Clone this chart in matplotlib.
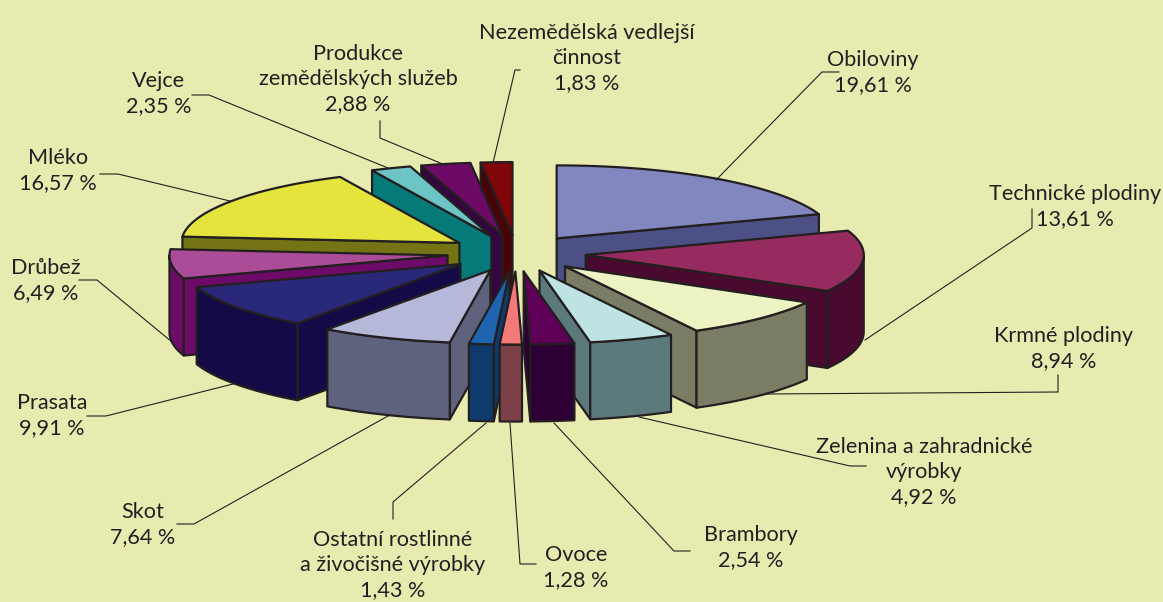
import numpy as np
import matplotlib
matplotlib.use("Agg")
import matplotlib.pyplot as plt

plt.rcParams['font.family'] = ['Lato', 'DejaVu Sans']

# shares in percent, clockwise from 12 o'clock
names = ["Obiloviny", "Technické plodiny", "Krmné plodiny",
         "Zelenina a zahradnické\nvýrobky", "Brambory", "Ovoce",
         "Ostatní rostlinné\na živočišné výrobky", "Skot", "Prasata",
         "Drůbež", "Mléko", "Vejce", "Produkce\nzemědělských služeb",
         "Nezemědělská vedlejší\nčinnost"]
shares = [19.61, 13.61, 8.94, 4.92, 2.54, 1.28, 1.43, 7.64, 9.91, 6.49, 16.57, 2.35, 2.88, 1.83]

top_colors = ["#8287bf", "#952b5e", "#eef3c4", "#bee3e3", "#5f0058", "#f47a7a", "#1f64b0",
              "#b6b8da", "#2a2878", "#ab4c98", "#e4e43c", "#6cc4c4", "#6c0a66", "#7e0508"]
wall_colors = ["#4c5084", "#4a0a30", "#7a7d64", "#5c7a7c", "#2c0034", "#7c4048", "#0e3a6c",
               "#5f627c", "#140a48", "#6e0a68", "#747414", "#057a78", "#340540", "#480306"]

label_pos = [(873, 73), (1075, 207), (1064, 349), (924, 472), (751, 548), (576, 568), (393, 565),
             (143, 525), (52, 416), (46, 281), (58, 171), (159, 94), (358, 79), (587, 58)]
leaders = [[(839, 72), (822, 72), (716, 180)],
           [(1032, 209), (1032, 228), (865, 340)],
           [(1058, 375), (1058, 392), (766, 394)],
           [(866, 466), (850, 466), (639, 417)],
           [(690, 551), (674, 551), (554, 423)],
           [(536, 564), (520, 564), (510, 423)],
           [(393, 519), (393, 502), (486, 423)],
           [(177, 524), (194, 524), (388, 416)],
           [(87, 416), (106, 416), (233, 384)],
           [(79, 280), (97, 280), (172, 342)],
           [(100, 174), (118, 174), (230, 201)],
           [(192, 95), (209, 95), (388, 168)],
           [(380, 121), (380, 138), (445, 165)],
           [(520, 70), (515, 70), (493, 163)]]

# pie geometry in pixels
cx, cy = 516.5, 253.3
rx, ry = 278, 73
depth = 77
explode = 0.25
edge = "#231f20"

fig = plt.figure(figsize=(11.63, 6.02), dpi=100, facecolor="#e8ebb0")
ax = fig.add_axes([0, 0, 1, 1])
ax.set_xlim(0, 1163)
ax.set_ylim(602, 0)
ax.axis("off")


def rim(ox, oy, a0, a1):
    t = np.radians(np.linspace(a0, a1, max(2, int(a1 - a0) * 2 + 2)))
    return ox + rx * np.sin(t), oy - ry * np.cos(t)


def wall(xs, ys, color):
    xs = np.asarray(xs)
    ys = np.asarray(ys)
    ax.fill(np.r_[xs, xs[::-1]], np.r_[ys, ys[::-1] + depth], fc=color, ec=edge, lw=1.6, joinstyle="round")


bounds = np.cumsum([0] + shares) * 3.6
mids = (bounds[:-1] + bounds[1:]) / 2

# back slices first
for i in np.argsort(-np.cos(np.radians(mids))):
    a0, a1, m = bounds[i], bounds[i + 1], np.radians(mids[i])
    ox = cx + explode * rx * np.sin(m)
    oy = cy - explode * ry * np.cos(m)
    xs, ys = rim(ox, oy, a0, a1)

    if np.sin(np.radians(a0)) < 0:
        wall([ox, xs[0]], [oy, ys[0]], wall_colors[i])
    if np.sin(np.radians(a1)) > 0:
        wall([ox, xs[-1]], [oy, ys[-1]], wall_colors[i])
    lo, hi = max(a0, 90), min(a1, 270)
    if hi > lo:
        wx, wy = rim(ox, oy, lo, hi)
        wall(wx, wy, wall_colors[i])

    ax.fill(np.r_[ox, xs], np.r_[oy, ys], fc=top_colors[i], ec=edge, lw=1.6, joinstyle="round")

for pts in leaders:
    ax.plot(*zip(*pts), color=edge, lw=0.8, zorder=1)

for name, share, (x, y) in zip(names, shares, label_pos):
    txt = name + "\n" + f"{share:.2f}".replace(".", ",") + " %"
    ax.text(x, y, txt, ha="center", va="center", fontsize=15.6, color=edge, linespacing=1.32)

fig.savefig("out.png", dpi=100, facecolor=fig.get_facecolor())
